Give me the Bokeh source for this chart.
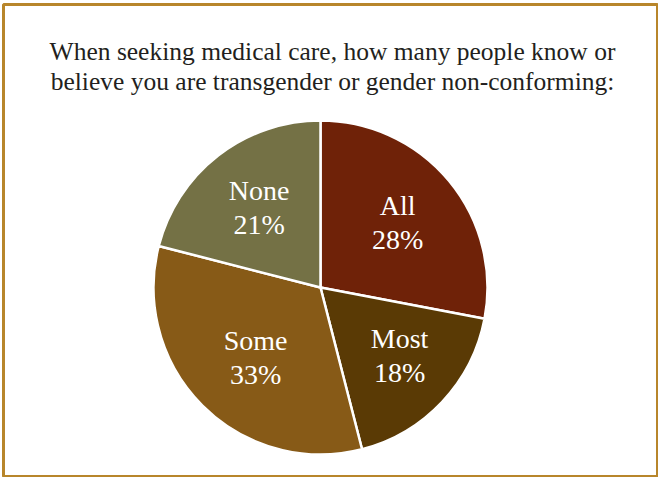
import math
from bokeh.plotting import figure
from bokeh.models import Label, Range1d
from bokeh.core.properties import value
from bokeh.embed import file_html
from bokeh.resources import INLINE

# ---- data ----
categories = ["All", "Most", "Some", "None"]
percents = [28, 18, 33, 21]
colors = ["#6F2208", "#5A3A05", "#875A17", "#747145"]
title_lines = [
    "When seeking medical care, how many people know or",
    "believe you are transgender or gender non-conforming:",
]

W, H = 658, 477
FONT = "Liberation Serif"

# frame inset so the gold outline sits where the reference's border is
p = figure(width=W, height=H, output_backend="svg", toolbar_location=None,
           x_range=Range1d(3, 657), y_range=Range1d(H - 476, H - 4),
           min_border_left=3, min_border_right=1,
           min_border_top=4, min_border_bottom=1)
p.axis.visible = False
p.grid.visible = False
p.background_fill_color = "white"
p.border_fill_color = "white"
p.outline_line_color = "#B8862B"
p.outline_line_width = 3


def Y(page_y):
    return H - page_y


cx, cy = 320, Y(287)
R = 167

total = sum(percents)
starts, ends, mids = [], [], []
cum = 0.0
for v in percents:
    a0 = math.pi / 2 - 2 * math.pi * cum / total
    cum += v
    a1 = math.pi / 2 - 2 * math.pi * cum / total
    starts.append(a1)
    ends.append(a0)
    mids.append((a0 + a1) / 2)

p.wedge(x=[cx] * 4, y=[cy] * 4, radius=R, start_angle=starts, end_angle=ends,
        direction="anticlock", fill_color=colors, line_color="white", line_width=2.5)

lr = 0.6 * R
lx = [cx + lr * math.cos(m) + (6 if math.sin(m) < 0 else 0) for m in mids]
ly = [cy + lr * math.sin(m) for m in mids]
p.text(x=lx, y=[y + 18 for y in ly], text=categories, text_color="white",
       text_font=value(FONT), text_font_size="28px", text_align="center",
       text_baseline="alphabetic")
p.text(x=lx, y=[y - 16 for y in ly], text=[f"{v}%" for v in percents], text_color="white",
       text_font=value(FONT), text_font_size="28px", text_align="center",
       text_baseline="alphabetic")

for i, line in enumerate(title_lines):
    p.add_layout(Label(x=332, y=Y(51) - 30 * i, x_units="data", y_units="data",
                       text=line, text_font=FONT, text_font_size="25.5px",
                       text_color="#231F20", text_align="center", text_baseline="alphabetic"))

open("out.html", "w").write(file_html(p, INLINE))
